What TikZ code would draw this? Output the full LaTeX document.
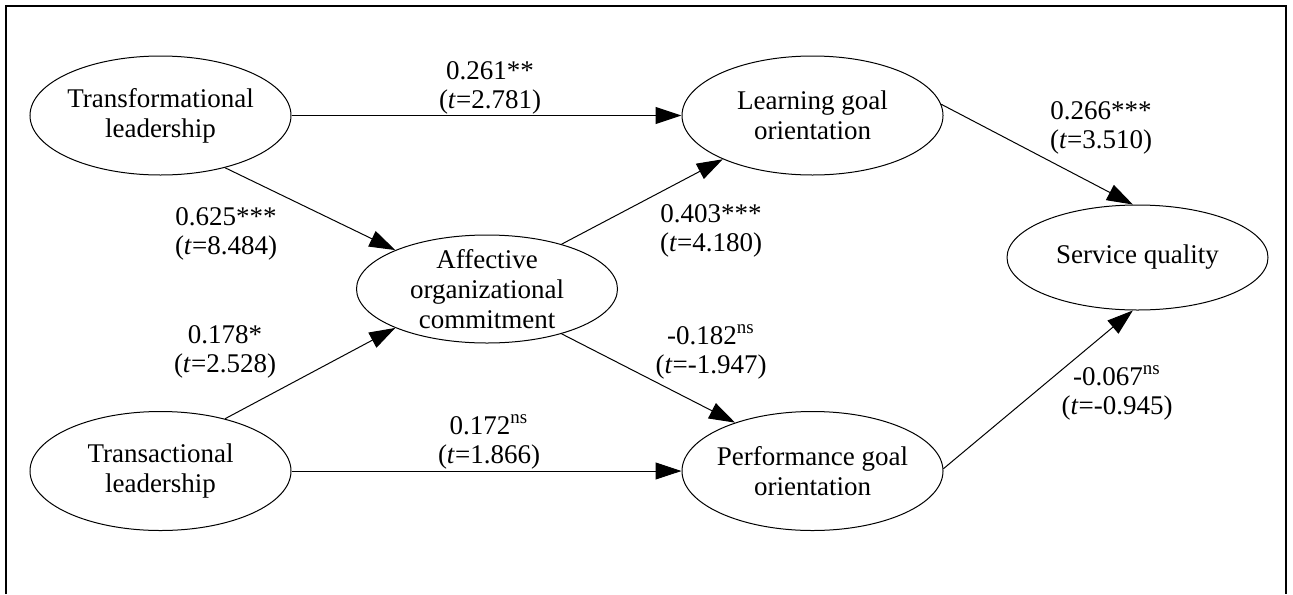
\documentclass[tikz,border=0pt]{standalone}
\usepackage{fontspec}
\setmainfont{Liberation Serif}
\usetikzlibrary{arrows.meta,%
                shapes.geometric,positioning}

\begin{document}
\begin{tikzpicture}[x=0.5pt,y=-0.5pt,
  latent/.style={draw,ellipse,inner sep=0pt,inner xsep=-3pt,inner ysep=-6pt,
    align=center,minimum width=130.5pt,minimum height=59.5pt,line width=0.5pt,
    font=\fontsize{13.5}{15}\selectfont},
  coef/.style={align=center,font=\fontsize{13.5}{14.5}\selectfont},
  link/.style={-{Triangle[length=13pt,width=8.5pt]},line width=0.5pt}]
\useasboundingbox (0,0) rectangle (1293,594);
\draw[line width=1pt] (6,594) -- (6,6) -- (1286,6) -- (1286,594);
%\node[coef] (title) at (646,20) {};
\node[latent] (tfl) at (160.5,115.5) {Transformational\\leadership};
\node[latent] (tsl) at (160.5,471) {Transactional\\leadership};
\node[latent,minimum height=54pt] (aoc) at (487,289) {Affective\\organizational\\commitment};
\node[latent] (lgo) at (812.5,115.5) {Learning goal\\orientation};
\node[latent] (pgo) at (812.5,471) {Performance goal\\orientation};
\node[latent,minimum height=52.5pt] (svc) at (1137.5,257.5) {Service quality};
\node[coef] (c261) at (490,88) {0.261**\\(\textit{t}=2.781)};
\node[coef] (c625) at (226,234) {0.625***\\(\textit{t}=8.484)};
\node[coef] (c178) at (225,352) {0.178*\\(\textit{t}=2.528)};
\node[coef] (c172) at (489,442) {0.172\textsuperscript{ns}\\(\textit{t}=1.866)};
\node[coef] (c403) at (711,231) {0.403***\\(\textit{t}=4.180)};
\node[coef] (c182) at (711,352) {-0.182\textsuperscript{ns}\\(\textit{t}=-1.947)};
\node[coef] (c266) at (1101,128) {0.266***\\(\textit{t}=3.510)};
\node[coef] (c067) at (1117,393) {-0.067\textsuperscript{ns}\\(\textit{t}=-0.945)};
\draw[link] (tfl) -- (lgo);
\draw[link] (tfl.-39) -- (aoc.157);
\draw[link] (tsl.39) -- (aoc.203);
\draw[link] (tsl) -- (pgo);
\draw[link] (aoc.31) -- (lgo.206);
\draw[link] (aoc.-31) -- (pgo.148);
\draw[link] (lgo.5) -- (svc.95);
\draw[link] (pgo.1) -- (svc.265);
\end{tikzpicture}
\end{document}
